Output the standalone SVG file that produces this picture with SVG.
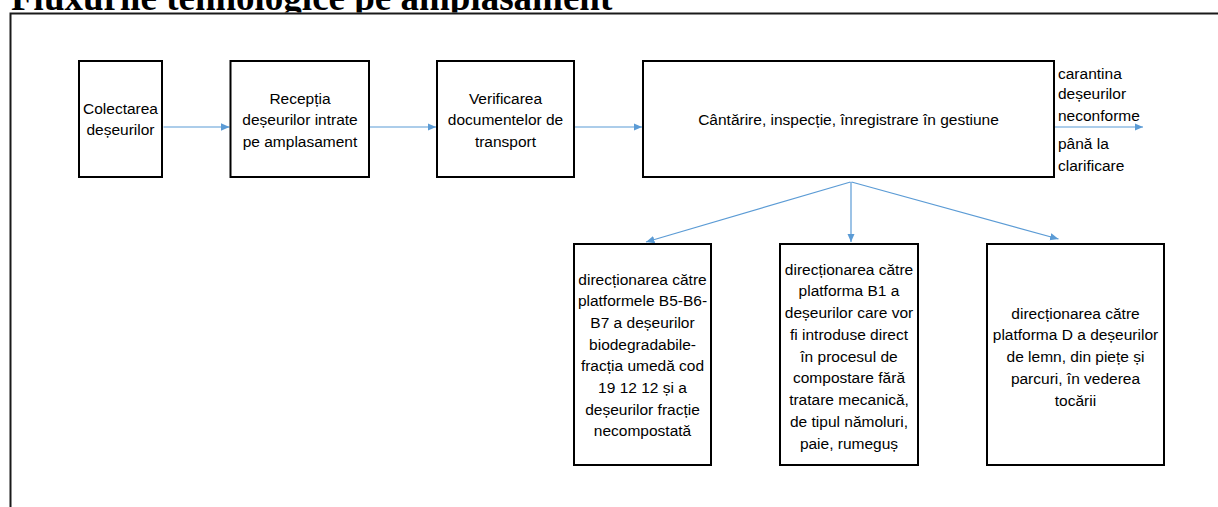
<svg xmlns="http://www.w3.org/2000/svg" width="1218" height="507" viewBox="0 0 1218 507">
<style>
.box{fill:#fff;stroke:#000;stroke-width:2}
.t{font-family:"Liberation Sans",Arial,sans-serif;font-size:15.5px;fill:#000;text-anchor:middle}
.l{font-family:"Liberation Sans",Arial,sans-serif;font-size:15.5px;fill:#000}
.c{stroke:#5B9BD5;stroke-width:1.2;fill:none;marker-end:url(#ah)}
.title{font-family:"Liberation Serif","Times New Roman",serif;font-weight:bold;font-size:37px;fill:#000}
</style>
<defs>
<marker id="ah" markerUnits="userSpaceOnUse" markerWidth="9" markerHeight="8" refX="8.5" refY="3.75" orient="auto">
<path d="M0,0 L8.5,3.75 L0,7.5 z" fill="#5B9BD5"/>
</marker>
<clipPath id="tc"><rect x="0" y="0" width="1218" height="12.5"/></clipPath>
</defs>
<rect width="1218" height="507" fill="#fff"/>
<g id="title" clip-path="url(#tc)">
<text class="title" x="11" y="9.5">Fluxurile tehnologice pe amplasament</text>
</g>
<g id="frame">
<path d="M10.5,507 L10.5,13.5 L1218,13.5" fill="none" stroke="#1a1a1a" stroke-width="2"/>
</g>
<g id="connectors">
<path class="c" d="M163.5,127 L229.5,127"/>
<path class="c" d="M370,127 L436,127"/>
<path class="c" d="M575,127 L642,127"/>
<path class="c" d="M1055,127 L1143,127"/>
<path class="c" d="M850.5,182 L646,242"/>
<path class="c" d="M851,182 L851,242"/>
<path class="c" d="M851.5,182 L1058.5,239"/>
</g>
<g id="n1">
<rect class="box" x="79" y="61" width="83" height="116"/>
<text class="t" x="120.5" y="113.5">Colectarea<tspan x="120.5" dy="21.5">deșeurilor</tspan></text>
</g>
<g id="n2">
<rect class="box" x="230.5" y="61" width="138.5" height="116"/>
<text class="t" x="300" y="103.5">Recepția<tspan x="300" dy="21.5">deșeurilor intrate</tspan><tspan x="300" dy="21.5">pe amplasament</tspan></text>
</g>
<g id="n3">
<rect class="box" x="437" y="61" width="137" height="116"/>
<text class="t" x="505.5" y="103.5">Verificarea<tspan x="505.5" dy="21.5">documentelor de</tspan><tspan x="505.5" dy="21.5">transport</tspan></text>
</g>
<g id="n4">
<rect class="box" x="643" y="61" width="411" height="116"/>
<text class="t" x="848.5" y="125">Cântărire, inspecție, înregistrare în gestiune</text>
</g>
<g id="n4label">
<text class="l" x="1058" y="78.5">carantina<tspan x="1058" dy="20.5">deșeurilor</tspan><tspan x="1058" dy="21.5">neconforme</tspan><tspan x="1058" dy="28.5">până la</tspan><tspan x="1058" dy="21.5">clarificare</tspan></text>
</g>
<g id="n5">
<rect class="box" x="574" y="244" width="137" height="221"/>
<text class="t" x="642.5" y="284.5">direcționarea către<tspan x="642.5" dy="21.7">platformele B5-B6-</tspan><tspan x="642.5" dy="21.7">B7 a deșeurilor</tspan><tspan x="642.5" dy="21.7">biodegradabile-</tspan><tspan x="642.5" dy="21.7">fracția umedă cod</tspan><tspan x="642.5" dy="21.7">19 12 12 și a</tspan><tspan x="642.5" dy="21.7">deșeurilor fracție</tspan><tspan x="642.5" dy="21.7">necompostată</tspan></text>
</g>
<g id="n6">
<rect class="box" x="780" y="244" width="138" height="221"/>
<text class="t" x="849" y="274.5">direcționarea către<tspan x="849" dy="21.75">platforma B1 a</tspan><tspan x="849" dy="21.75">deșeurilor care vor</tspan><tspan x="849" dy="21.75">fi introduse direct</tspan><tspan x="849" dy="21.75">în procesul de</tspan><tspan x="849" dy="21.75">compostare fără</tspan><tspan x="849" dy="21.75">tratare mecanică,</tspan><tspan x="849" dy="21.75">de tipul nămoluri,</tspan><tspan x="849" dy="21.75">paie, rumeguș</tspan></text>
</g>
<g id="n7">
<rect class="box" x="987" y="244" width="177" height="221"/>
<text class="t" x="1075.5" y="318.5">direcționarea către<tspan x="1075.5" dy="21.8">platforma D a deșeurilor</tspan><tspan x="1075.5" dy="21.8">de lemn, din piețe și</tspan><tspan x="1075.5" dy="21.8">parcuri, în vederea</tspan><tspan x="1075.5" dy="21.8">tocării</tspan></text>
</g>
</svg>
